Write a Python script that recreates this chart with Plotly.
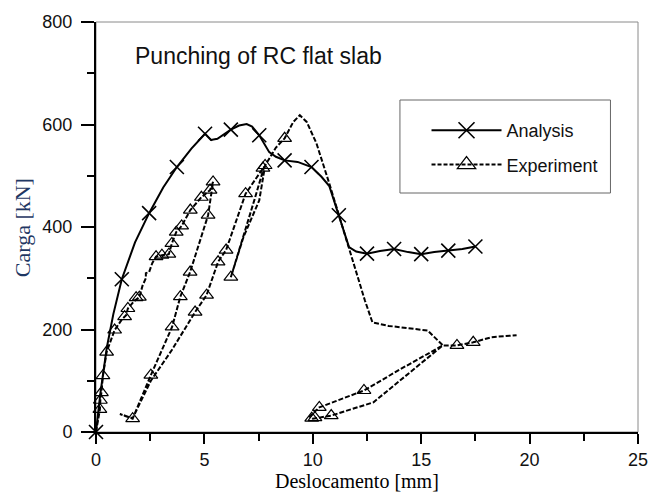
import plotly.graph_objects as go

# ---------------- data ----------------
# Analysis (solid line) vertices
ana_x = [0, 0.2, 0.5, 0.8, 1.19, 1.8, 2.45, 3.1, 3.73, 4.4, 5.03, 5.3, 5.6, 6.22, 6.6, 6.95,
         7.2, 7.53, 7.99, 8.3, 8.7, 9.3, 9.94, 10.4, 10.76, 11.2, 11.67, 12.0, 12.5, 13.1,
         13.75, 14.4, 15.0, 15.6, 16.25, 16.9, 17.5]
ana_y = [0, 75, 165, 230, 298, 370, 427, 477, 517, 553, 582, 570, 572, 590, 598, 601,
         596, 579, 546, 537, 530, 527, 517, 498, 480, 423, 361, 352, 348, 353,
         357, 351, 347, 351, 354, 357, 362]
# Analysis marker (x) positions
ana_mx = [0, 1.19, 2.45, 3.73, 5.03, 6.22, 7.53, 8.7, 9.94, 11.2, 12.5, 13.75, 15.0, 16.25, 17.5]
ana_my = [0, 298, 427, 517, 582, 590, 579, 530, 517, 423, 348, 357, 347, 354, 362]

# Experiment (dashed line) path
exp_x = [0, 0.1, 0.18, 0.2, 0.25, 0.32, 0.49, 0.86, 1.2, 1.39, 1.47, 1.75, 2.0, 2.15, 2.3, 2.3,
         2.45, 2.6, 2.77, 3.04, 3.36, 3.5, 3.7, 3.95, 4.35, 4.86, 5.26, 5.4,
         5.17, 4.34, 3.89, 3.51, 2.53, 1.69, 1.1, 1.69,
         2.53, 3.5, 4.57, 5.1, 5.63, 6.0, 6.9, 7.76,
         7.3, 6.22, 6.8, 7.53, 7.8,
         8.3, 8.7, 9.1, 9.4, 9.72, 10.17, 10.76, 11.2, 11.67, 11.98, 12.4, 12.75, 13.5, 15.3, 16.0,
         12.8, 10.85, 10.0, 9.85, 10.3, 12.36, 14.1, 16.0, 16.65, 17.4, 18.25, 19.4]
exp_y = [0, 25, 44, 62, 77, 110, 156, 199, 220, 228, 241, 255, 263, 286, 300, 310,
         312, 330, 342, 345, 347, 368, 390, 402, 433, 458, 472, 488,
         423, 312, 264, 205, 111, 26, 35, 27,
         100, 160, 234, 267, 332, 355, 465, 518,
         452, 302, 380, 452, 520,
         555, 573, 605, 618, 605, 563, 485, 423, 361, 316, 257, 214, 207, 198, 169,
         58, 32, 26, 30, 48, 81, 124, 169, 169, 175, 185, 189]
# Experiment marker (triangle) positions
exp_mx = [0.18, 0.2, 0.25, 0.32, 0.49, 0.86, 1.32, 1.47, 1.85, 2.0, 2.77, 3.04, 3.36, 3.5, 3.7,
          3.95, 4.35, 4.86, 5.26, 5.4,
          5.17, 4.34, 3.89, 3.51, 2.53, 1.69,
          4.57, 5.1, 5.63, 6.0, 6.9, 7.7, 7.8, 6.22, 8.7,
          9.95, 10.1, 10.3, 10.85, 12.36, 16.65, 17.4]
exp_my = [44, 62, 77, 110, 156, 199, 225, 241, 262, 263, 342, 345, 347, 368, 390,
          402, 433, 458, 472, 488,
          423, 312, 264, 205, 111, 26,
          234, 267, 332, 355, 465, 515, 520, 302, 573,
          27, 28, 48, 32, 81, 169, 175]

series_names = ["Analysis", "Experiment"]
x_ticks = [0, 5, 10, 15, 20, 25]
y_ticks = [0, 200, 400, 600, 800]

# ---------------- figure ----------------
W, H = 660, 493
L, R, T, B = 96, 13, 22, 61
pw, ph = W - L - R, H - T - B


def px_x(p):
    return (p - L) / pw


def px_y(p):
    return (H - B - p) / ph


fig = go.Figure()

line_w = 2
fig.add_trace(go.Scatter(x=exp_x, y=exp_y, mode="lines", showlegend=False,
                         line=dict(color="black", width=line_w, dash="5px,2px"),
                         hoverinfo="skip", cliponaxis=False))
fig.add_trace(go.Scatter(x=exp_mx, y=exp_my, mode="markers", showlegend=False,
                         marker=dict(symbol="triangle-up-open", size=12, color="black",
                                     line=dict(width=1.2, color="black")),
                         cliponaxis=False))
fig.add_trace(go.Scatter(x=ana_x, y=ana_y, mode="lines", showlegend=False,
                         line=dict(color="black", width=line_w), cliponaxis=False))
fig.add_trace(go.Scatter(x=ana_mx, y=ana_my, mode="markers", showlegend=False,
                         marker=dict(symbol="x-thin-open", size=14, color="black",
                                     line=dict(width=1.6, color="black")),
                         cliponaxis=False))

# legend proxies
fig.add_trace(go.Scatter(x=[None], y=[None], mode="lines+markers", name=series_names[0],
                         legendgroup="a",
                         line=dict(color="black", width=line_w),
                         marker=dict(symbol="x-thin-open", size=16, color="black",
                                     line=dict(width=1.6, color="black"))))
fig.add_trace(go.Scatter(x=[None], y=[None], mode="lines+markers", name=series_names[1],
                         legendgroup="b",
                         line=dict(color="black", width=line_w, dash="4px,2px"),
                         marker=dict(symbol="triangle-up-open", size=16, color="black",
                                     line=dict(width=1.2, color="black"))))

fig.update_layout(
    width=W, height=H,
    margin=dict(l=L, r=R, t=T, b=B, pad=0),
    paper_bgcolor="white", plot_bgcolor="white",
    font=dict(family="Arial, Liberation Sans, sans-serif", size=18, color="black"),
    showlegend=True,
    legend=dict(x=px_x(432), y=px_y(112), xanchor="left", yanchor="top",
                bgcolor="rgba(0,0,0,0)", borderwidth=0,
                font=dict(family="Arial, Liberation Sans, sans-serif", size=18, color="#111"),
                itemwidth=70, tracegroupgap=8),
    xaxis=dict(range=[0, 25], tickvals=x_ticks, ticks="outside", ticklen=10, tickwidth=1.5,
               tickcolor="black", showline=True, linecolor="black", linewidth=2,
               showgrid=False, zeroline=False,
               minor=dict(dtick=2.5, ticks="outside", ticklen=7, tickwidth=1.5, tickcolor="black"),
               tickfont=dict(size=18, color="#111")),
    yaxis=dict(range=[0, 800], tickvals=y_ticks, ticks="outside", ticklen=13, tickwidth=1.5,
               tickcolor="black", showline=True, linecolor="black", linewidth=2,
               showgrid=False, zeroline=False, ticklabelstandoff=5,
               minor=dict(dtick=100, ticks="outside", ticklen=7, tickwidth=1.5, tickcolor="black"),
               tickfont=dict(size=18, color="#111")),
    shapes=[
        dict(type="rect", xref="paper", yref="paper", x0=0, x1=1, y0=0, y1=1,
             line=dict(color="#8a8a8a", width=1), layer="below"),
        dict(type="rect", xref="paper", yref="paper",
             x0=px_x(405), x1=px_x(619), y0=px_y(193), y1=px_y(100),
             line=dict(color="#666", width=1), fillcolor="rgba(0,0,0,0)", layer="above"),
    ],
    annotations=[
        dict(text="Punching of RC flat slab", xref="paper", yref="paper",
             x=px_x(134), y=px_y(56), xanchor="left", yanchor="middle", showarrow=False,
             font=dict(family="Arial, Liberation Sans, sans-serif", size=23, color="#111")),
        dict(text="Deslocamento [mm]", xref="paper", yref="paper",
             x=px_x(361), y=px_y(481.5), xanchor="center", yanchor="middle", showarrow=False,
             font=dict(family="Liberation Serif, Times New Roman, serif", size=20, color="black")),
        dict(text="Carga [kN]", xref="paper", yref="paper", textangle=-90,
             x=px_x(21), y=px_y(228), xanchor="center", yanchor="middle", showarrow=False,
             font=dict(family="Liberation Serif, Times New Roman, serif", size=22, color="#1F3763")),
    ],
)

fig.write_html("out.html")
